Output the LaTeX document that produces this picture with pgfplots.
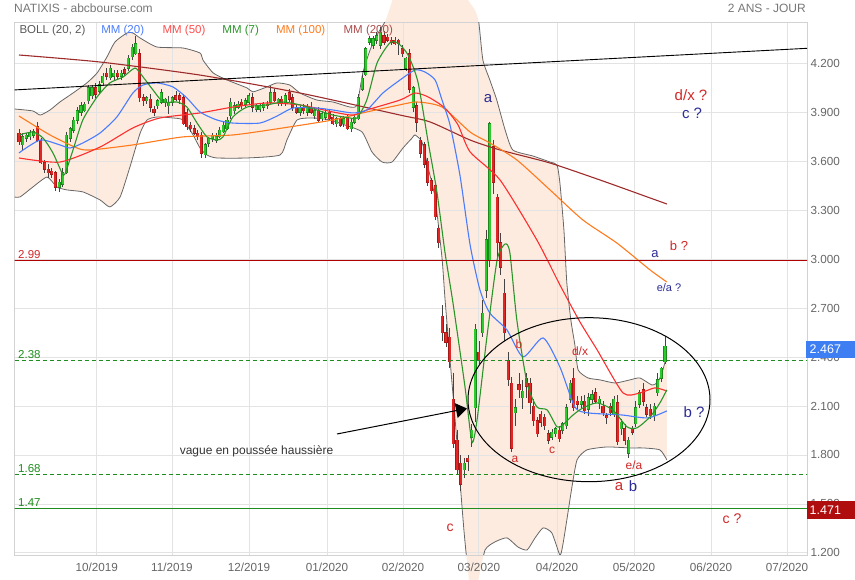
\documentclass[border=0pt]{standalone}
\usepackage{pgfplots}
\pgfplotsset{compat=1.18}
\usepackage{pgfplotstable}
\usepgfplotslibrary{fillbetween}
\usetikzlibrary{arrows.meta}
\usepackage{fontspec}
\setmainfont{Liberation Sans}

\newcommand\fs[1]{\fontsize{#1}{#1}\selectfont}

\definecolor{gridc}{HTML}{E3E3E3}
\definecolor{framec}{HTML}{D2D2D2}
\definecolor{tickc}{HTML}{666666}
\definecolor{titc}{HTML}{777777}
\definecolor{bbfill}{HTML}{FDEBDF}
\definecolor{bbline}{HTML}{666666}
\definecolor{mm20}{HTML}{4A7CFF}
\definecolor{mm50}{HTML}{FF2E2E}
\definecolor{mm7}{HTML}{2A962A}
\definecolor{mm100}{HTML}{FF7A1C}
\definecolor{mm200}{HTML}{9E2B2B}
\definecolor{upc}{HTML}{2BCB2B}
\definecolor{upe}{HTML}{1E861E}
\definecolor{dnc}{HTML}{E22626}
\definecolor{dne}{HTML}{A51818}
\definecolor{wick}{HTML}{444444}
\definecolor{lvl}{HTML}{1E8C1E}
\definecolor{res}{HTML}{B00000}
\definecolor{annr}{HTML}{D02828}
\definecolor{annb}{HTML}{2C2C96}
\definecolor{boxb}{HTML}{3D7EF2}
\definecolor{boxr}{HTML}{B00E0E}

% daily candles, k = trading day index (0 = early Sept 2019)
\pgfplotstableread{
k o h l c
1 3.70 3.77 3.66 3.75
2 3.74 3.77 3.72 3.76
3 3.75 3.79 3.73 3.77
4 3.76 3.80 3.74 3.78
11 3.44 3.49 3.41 3.47
12 3.46 3.56 3.44 3.53
13 3.53 3.78 3.52 3.76
14 3.74 3.81 3.72 3.80
15 3.79 3.87 3.77 3.85
16 3.85 3.93 3.83 3.91
17 3.90 3.96 3.88 3.94
18 3.91 3.96 3.90 3.95
19 3.97 4.07 3.95 4.05
20 4.00 4.07 3.98 4.05
22 4.03 4.09 4.01 4.07
23 4.08 4.14 4.06 4.12
25 4.11 4.19 4.10 4.17
26 4.12 4.16 4.10 4.14
28 4.12 4.16 4.10 4.14
30 4.17 4.25 4.15 4.23
31 4.24 4.32 4.22 4.30
32 4.26 4.37 4.25 4.32
35 3.97 4.00 3.95 3.99
38 3.94 3.98 3.92 3.97
39 3.96 4.04 3.95 4.02
40 3.96 3.99 3.93 3.98
41 3.94 4.00 3.89 3.96
42 3.96 4.00 3.94 3.99
51 3.64 3.71 3.62 3.70
52 3.71 3.75 3.69 3.74
53 3.74 3.77 3.72 3.76
54 3.73 3.77 3.71 3.75
55 3.75 3.81 3.74 3.79
56 3.78 3.84 3.77 3.82
57 3.80 3.87 3.79 3.85
58 3.88 3.99 3.86 3.96
59 3.91 3.96 3.89 3.94
60 3.93 3.97 3.92 3.95
62 3.95 3.99 3.93 3.97
63 3.96 4.02 3.95 4.00
65 3.92 3.95 3.90 3.94
66 3.92 3.95 3.90 3.94
67 3.93 3.96 3.91 3.95
69 3.96 4.06 3.95 4.02
71 3.96 3.99 3.94 3.98
73 3.96 4.02 3.94 4.00
77 3.90 3.94 3.88 3.93
79 3.90 3.95 3.88 3.93
81 3.88 3.93 3.86 3.91
83 3.86 3.91 3.84 3.89
84 3.87 3.92 3.85 3.89
87 3.83 3.87 3.81 3.86
89 3.83 3.88 3.81 3.86
91 3.80 3.86 3.78 3.84
92 3.84 3.89 3.83 3.87
93 3.86 4.01 3.85 3.99
94 4.04 4.13 4.03 4.11
95 4.13 4.30 4.12 4.29
96 4.33 4.37 4.31 4.35
97 4.31 4.37 4.29 4.35
98 4.34 4.39 4.32 4.37
99 4.31 4.42 4.29 4.39
106 4.17 4.24 4.15 4.23
108 3.93 4.06 3.90 4.05
122 1.71 1.78 1.66 1.75
124 1.91 1.99 1.85 1.95
125 2.09 2.60 2.00 2.57
127 2.55 2.75 2.52 2.67
128 2.81 3.18 2.76 3.12
129 2.99 3.84 2.95 3.83
136 2.06 2.14 1.98 2.09
138 2.15 2.26 2.08 2.19
146 1.91 1.96 1.89 1.94
147 1.93 1.97 1.91 1.96
149 1.95 2.00 1.93 1.99
150 1.98 2.11 1.96 2.09
151 2.14 2.26 2.12 2.24
154 2.11 2.16 2.09 2.13
156 2.08 2.18 2.04 2.15
157 2.14 2.20 2.11 2.17
159 2.12 2.16 2.08 2.14
163 2.05 2.16 2.03 2.14
165 1.96 2.02 1.92 2.00
167 1.81 1.91 1.78 1.89
169 1.99 2.13 1.97 2.09
170 2.11 2.20 2.09 2.18
174 2.04 2.12 2.01 2.10
175 2.18 2.30 2.16 2.26
176 2.27 2.34 2.25 2.33
177 2.37 2.53 2.36 2.467
}\upcandles

\pgfplotstableread{
k o h l c
0 3.77 3.80 3.70 3.72
5 3.81 3.84 3.72 3.73
6 3.73 3.74 3.58 3.59
7 3.59 3.61 3.53 3.55
8 3.55 3.58 3.50 3.53
9 3.54 3.56 3.50 3.52
10 3.53 3.54 3.42 3.44
21 4.05 4.08 3.99 4.01
24 4.14 4.17 4.10 4.12
27 4.14 4.16 4.10 4.12
29 4.16 4.18 4.12 4.14
33 4.26 4.29 3.96 3.99
34 3.99 4.01 3.94 3.97
36 3.98 4.01 3.90 3.93
37 3.92 3.94 3.88 3.90
43 4.00 4.03 3.97 3.98
44 4.00 4.02 3.95 3.98
45 3.99 4.01 3.82 3.83
46 3.90 3.92 3.79 3.81
47 3.82 3.84 3.78 3.80
48 3.80 3.82 3.76 3.77
49 3.77 3.79 3.73 3.75
50 3.76 3.78 3.62 3.65
61 3.96 3.98 3.92 3.94
64 3.99 4.02 3.90 3.93
68 3.95 3.97 3.92 3.94
70 4.02 4.04 3.96 3.97
72 3.98 4.00 3.94 3.96
74 4.02 4.04 3.96 3.98
75 3.99 4.01 3.91 3.93
76 3.93 3.95 3.89 3.90
78 3.93 3.95 3.89 3.91
80 3.93 3.96 3.89 3.90
82 3.91 3.93 3.84 3.85
85 3.90 3.92 3.85 3.86
86 3.87 3.89 3.82 3.83
88 3.86 3.88 3.81 3.82
90 3.87 3.89 3.79 3.80
100 4.37 4.40 4.31 4.33
101 4.36 4.38 4.33 4.34
102 4.34 4.36 4.31 4.33
103 4.34 4.36 4.31 4.32
104 4.34 4.35 4.25 4.32
105 4.29 4.31 4.24 4.26
107 4.26 4.29 4.02 4.04
109 3.94 3.96 3.78 3.84
110 3.73 3.75 3.62 3.65
111 3.70 3.72 3.56 3.58
112 3.60 3.62 3.45 3.47
113 3.48 3.50 3.40 3.42
114 3.45 3.47 3.24 3.26
115 3.19 3.21 3.07 3.10
116 2.65 2.72 2.50 2.55
117 2.55 2.60 2.46 2.49
118 2.52 2.58 2.33 2.37
119 2.14 2.30 1.84 1.87
120 1.89 1.95 1.68 1.71
121 1.75 1.80 1.58 1.62
123 1.78 1.80 1.70 1.76
126 2.43 2.50 2.36 2.38
130 3.69 3.73 3.40 3.47
131 3.38 3.40 3.00 3.10
132 3.10 3.16 2.90 2.95
133 2.79 2.88 2.50 2.55
134 2.38 2.43 2.22 2.26
135 2.24 2.28 1.82 1.84
137 2.23 2.30 2.15 2.20
139 2.27 2.30 2.15 2.22
140 2.24 2.27 2.05 2.12
141 2.10 2.14 1.98 2.01
142 2.01 2.03 1.91 1.93
143 2.05 2.07 1.97 2.00
144 2.03 2.05 1.95 1.98
145 1.93 1.95 1.87 1.89
148 1.95 1.98 1.88 1.90
152 2.27 2.33 2.07 2.09
153 2.13 2.16 2.08 2.11
155 2.13 2.17 2.05 2.07
158 2.18 2.21 2.12 2.13
160 2.10 2.13 2.04 2.06
161 2.04 2.06 1.99 2.03
162 2.10 2.12 2.04 2.06
164 2.12 2.17 1.86 1.88
166 1.96 1.99 1.86 1.89
168 1.96 1.98 1.92 1.94
171 2.20 2.24 2.10 2.13
172 2.09 2.11 2.03 2.05
173 2.08 2.11 2.02 2.04
}\downcandles

\pgfplotsset{
  candle/.style 2 args={draw=none, mark=none, forget plot,
    error bars/.cd, y dir=both, y explicit, error mark=none,
    error bar style={draw=#1, line width=#2}},
}

\begin{document}
\begin{tikzpicture}
\path (0,0) rectangle (855pt,580pt);
\begin{axis}[
  at={(14.5pt,25pt)}, anchor=south west,
  scale only axis, width=792.5pt, height=532.3pt,
  xmin=-1.23, xmax=215.9, ymin=1.187, ymax=4.449,
  set layers, clip mode=individual, clip bounding box=upper bound,
  axis line style={framec},
  grid=major, major grid style={gridc, line width=0.8pt},
  major tick length=0pt,
  xtick={21.3,41.9,63.0,84.4,105.2,126.0,147.4,168.5,189.6,210.4},
  xticklabels={10/2019,11/2019,12/2019,01/2020,02/2020,03/2020,04/2020,05/2020,06/2020,07/2020},
  ytick={1.2,1.5,1.8,2.1,2.4,2.7,3.0,3.3,3.6,3.9,4.2},
  yticklabel pos=right,
  ticklabel style={font=\fs{11.7}, text=tickc},
  /pgf/number format/assume math mode=true,
  yticklabel style={/pgf/number format/.cd, fixed, fixed zerofill, precision=3},
  xticklabel style={yshift=-4pt},
]
% Bollinger (20,2)
\addplot[name path=bbu, bbline, line width=0.8pt, smooth, tension=0.35] coordinates {
(-1.2,3.920) (3.8,3.908) (5.8,3.883) (8.5,3.914) (11.2,3.963) (14.8,4.018) (18.6,4.080)
(21.4,4.141) (24.1,4.239) (26.3,4.331) (29.6,4.386) (31.2,4.386) (33.2,4.355) (37.8,4.300)
(44.9,4.294) (49.6,4.263) (50.4,4.220) (53.2,4.141) (57,4.098) (62.5,4.049) (64.1,4.025)
(67.9,4.055) (70.7,4.080) (74.2,4.067) (77,4.018) (81.6,3.975) (86,3.963) (90.7,3.932)
(92.6,3.945) (94.2,4.141) (96.2,4.282) (98.4,4.386) (100.5,4.466) (104.4,4.71) (109.9,4.83)
(115.3,4.77) (120.8,4.65) (124.9,4.527) (126,4.447) (127.1,4.220) (129,4.098) (130.9,3.975)
(133.2,3.791) (135.3,3.669) (140.8,3.632) (145.5,3.595) (147.4,3.577) (148.2,3.467)
(149.3,3.179) (150.1,2.854) (151.2,2.627) (152.3,2.474) (153.2,2.321) (155.9,2.272)
(159.2,2.260) (163.3,2.241) (167.4,2.260) (170.1,2.272) (173.4,2.229) (175.1,2.248)
(176.4,2.321) (177.5,2.413)};
\addplot[name path=bbl, bbline, line width=0.8pt, smooth, tension=0.35] coordinates {
(-1.2,3.381) (0.3,3.381) (3.8,3.442) (7.7,3.503) (10.4,3.442) (13.2,3.424) (17.5,3.412)
(22.2,3.363) (24.9,3.320) (27.7,3.381) (30.4,3.565) (33.2,3.773) (35.1,3.853) (37.8,3.871)
(42.2,3.865) (44.9,3.853) (47.7,3.761) (49.6,3.681) (51.5,3.638) (54.2,3.620) (62.5,3.620)
(71.5,3.638) (73.4,3.730) (76.2,3.853) (80.5,3.865) (85.2,3.853) (89.3,3.822) (94,3.779)
(96.7,3.657) (99.5,3.595) (102.2,3.595) (105.2,3.681) (107.7,3.742) (108.5,3.761)
(110.4,3.718) (112.1,3.559) (114,3.375) (115.9,3.007) (116.7,2.762) (118.1,2.382)
(119.5,2.014) (120.8,1.647) (121.9,1.340) (122.7,1.157) (124.1,0.91) (125.8,1.03)
(127.7,1.218) (130.4,1.267) (133.7,1.292) (136.7,1.236) (139.2,1.218) (141.4,1.292)
(143.6,1.353) (146,1.322) (148.2,1.187) (149,1.249) (150.1,1.402) (151.5,1.604)
(152.9,1.770) (155.6,1.831) (161.1,1.849) (167.4,1.843) (171,1.843) (175.6,1.831) (177.5,1.770)};
\addplot[bbfill] fill between[of=bbu and bbl, on layer=axis background];

% candles: wicks, then body edge, then body
\addplot[candle={wick}{0.7pt}]
  table[x=k, y expr=(\thisrow{h}+\thisrow{l})/2, y error expr=(\thisrow{h}-\thisrow{l})/2] {\upcandles};
\addplot[candle={wick}{0.7pt}]
  table[x=k, y expr=(\thisrow{h}+\thisrow{l})/2, y error expr=(\thisrow{h}-\thisrow{l})/2] {\downcandles};
\addplot[candle={upe}{3.1pt}]
  table[x=k, y expr=(\thisrow{o}+\thisrow{c})/2, y error expr=(\thisrow{c}-\thisrow{o})/2+0.003] {\upcandles};
\addplot[candle={upc}{2.0pt}]
  table[x=k, y expr=(\thisrow{o}+\thisrow{c})/2, y error expr=(\thisrow{c}-\thisrow{o})/2] {\upcandles};
\addplot[candle={dne}{3.1pt}]
  table[x=k, y expr=(\thisrow{o}+\thisrow{c})/2, y error expr=(\thisrow{o}-\thisrow{c})/2+0.003] {\downcandles};
\addplot[candle={dnc}{2.0pt}]
  table[x=k, y expr=(\thisrow{o}+\thisrow{c})/2, y error expr=(\thisrow{o}-\thisrow{c})/2] {\downcandles};

% moving averages
\addplot[mm200, line width=1.1pt, smooth, tension=0.4] coordinates {
(0,4.251) (22.2,4.208) (49.6,4.128) (77,4.018) (104.4,3.883) (112.6,3.841) (123.6,3.730)
(131.8,3.669) (145.5,3.589) (159.2,3.485) (172.9,3.375) (177.5,3.338)};
\addplot[mm100, line width=1.1pt, smooth, tension=0.4] coordinates {
(0,3.877) (8.5,3.761) (15.9,3.681) (19.5,3.669) (31.2,3.700) (44.9,3.749) (58.6,3.761)
(72.3,3.804) (86,3.853) (95.3,3.902) (103,3.939) (109,3.963) (115.9,3.932) (123.6,3.779)
(129,3.712) (136.4,3.608) (145.5,3.424) (154.5,3.240) (163.8,3.099) (172.9,2.934) (177.5,2.860)};
\addplot[mm50, line width=1.1pt, smooth, tension=0.4] coordinates {
(0,3.620) (11.2,3.595) (22.2,3.687) (31.2,3.804) (38.6,3.865) (49.6,3.896) (58.6,3.932)
(67.9,3.957) (77,3.945) (86,3.902) (91.5,3.883) (95.3,3.914) (104.4,3.975) (108.5,4.018)
(112.1,3.994) (116.7,3.926) (120.3,3.822) (123.6,3.657) (131.8,3.485) (141.9,3.117)
(148.2,2.842) (153.7,2.615) (158.4,2.444) (165.5,2.180) (170.1,2.180) (174.2,2.211) (177.5,2.192)};
\addplot[mm20, line width=1.1pt, smooth, tension=0.4] coordinates {
(0,3.651) (5.8,3.730) (11.2,3.700) (14,3.681) (17.5,3.712) (22.2,3.773) (26.8,3.871)
(31.2,4.018) (34,4.067) (37.8,4.080) (42.2,4.055) (46,3.988) (49.6,3.902) (54.2,3.853)
(58.6,3.834) (66,3.834) (70.7,3.877) (75.1,3.926) (81.6,3.926) (86,3.914) (91.5,3.896)
(95.3,3.914) (99.7,4.018) (104.4,4.098) (108.5,4.159) (111.2,4.147) (114,4.098) (115.9,3.975)
(118.1,3.822) (120.8,3.516) (123.6,3.087) (126.3,2.811) (129,2.670) (133.7,2.566)
(138.1,2.401) (143.6,2.517) (148.2,2.339) (152.3,2.094) (155.9,2.058) (165.2,2.045)
(172.3,2.027) (177.5,2.070)};
\addplot[mm7, line width=1.1pt, smooth, tension=0.4] coordinates {
(0,3.761) (3.8,3.779) (6.6,3.742) (9.3,3.651) (11.8,3.528) (12.6,3.522) (14.8,3.669)
(17.5,3.853) (21.4,3.994) (24.9,4.080) (28.5,4.116) (31.8,4.171) (34,4.116) (36.7,4.037)
(39.5,3.963) (43.3,3.963) (46,3.932) (48.8,3.834) (51.5,3.749) (54.2,3.730) (55.9,3.749)
(58.6,3.871) (62.5,3.932) (67.9,3.945) (72.3,3.963) (77,3.945) (81.6,3.914) (86,3.883)
(90.7,3.865) (92.6,3.865) (95.3,3.975) (98.1,4.202) (101.6,4.325) (103.8,4.325)
(106.6,4.251) (109.3,4.086) (112.1,3.718) (114.5,3.412) (116.7,3.044) (118.9,2.732)
(122.2,2.217) (124.1,1.880) (125.5,2.015) (128.2,2.523) (131,2.995) (133.2,3.093)
(134.5,3.038) (136.4,2.627) (139.2,2.241) (141.9,2.094) (144.7,2.076) (147.4,1.972)
(149,1.984) (151.8,2.045) (154.5,2.088) (158.4,2.119) (162.7,2.076) (166.6,1.972)
(169.3,1.966) (172.9,2.033) (175.6,2.119) (177.5,2.199)};

% levels and trend line
\addplot[black, line width=0.9pt] coordinates {(-1.23,4.037) (215.9,4.292)};
\addplot[res, line width=1pt] coordinates {(-5,2.99) (220,2.99)};
\addplot[lvl, line width=1pt, dash pattern=on 4pt off 3pt] coordinates {(-5,2.38) (220,2.38)};
\addplot[lvl, line width=1pt, dash pattern=on 4pt off 3pt] coordinates {(-5,1.68) (220,1.68)};
\addplot[lvl, line width=1.1pt] coordinates {(-5,1.47) (220,1.47)};

\node[anchor=south west, inner sep=0pt, xshift=3.5pt, yshift=1.8pt, text=annr, font=\fs{11.5}] at (axis cs:-1.23,2.99) {2.99};
\node[anchor=south west, inner sep=0pt, xshift=3.5pt, yshift=1.8pt, text=lvl, font=\fs{11.5}] at (axis cs:-1.23,2.38) {2.38};
\node[anchor=south west, inner sep=0pt, xshift=3.5pt, yshift=1.8pt, text=lvl, font=\fs{11.5}] at (axis cs:-1.23,1.68) {1.68};
\node[anchor=south west, inner sep=0pt, xshift=3.5pt, yshift=1.8pt, text=lvl, font=\fs{11.5}] at (axis cs:-1.23,1.47) {1.47};

% indicator captions
\node[anchor=west, inner sep=0pt, text=black!65, font=\fs{11.5}] at (axis cs:0.1,4.404) {BOLL (20, 2)};
\node[anchor=west, inner sep=0pt, text=mm20, font=\fs{11.5}] at (axis cs:22.5,4.404) {MM (20)};
\node[anchor=west, inner sep=0pt, text=mm50!85, font=\fs{11.5}] at (axis cs:39.3,4.404) {MM (50)};
\node[anchor=west, inner sep=0pt, text=mm7, font=\fs{11.5}] at (axis cs:55.7,4.404) {MM (7)};
\node[anchor=west, inner sep=0pt, text=mm100, font=\fs{11.5}] at (axis cs:70.4,4.404) {MM (100)};
\node[anchor=west, inner sep=0pt, text=mm200!85, font=\fs{11.5}] at (axis cs:88.9,4.404) {MM (200)};
\end{axis}

% titles
\node[anchor=west, inner sep=0pt, text=titc, font=\fs{12}] at (14pt,580pt-8.5pt) {NATIXIS - abcbourse.com};
\node[anchor=east, inner sep=0pt, text=titc, font=\fs{12}] at (806pt,580pt-8.5pt) {2 ANS - JOUR};

% last price / low boxes
\fill[boxb] (806pt,580pt-358.3pt) rectangle (855pt,580pt-340.7pt);
\node[anchor=west, inner sep=0pt, text=white, font=\fs{12.5}] at (809.5pt,580pt-349.5pt) {2.467};
\fill[boxr] (807pt,580pt-519pt) rectangle (855pt,580pt-501pt);
\node[anchor=west, inner sep=0pt, text=white, font=\fs{12.5}] at (809.5pt,580pt-510pt) {1.471};

% hand annotations
\draw[black, line width=1pt] (589pt,580pt-399.7pt) ellipse [x radius=121pt, y radius=82pt];
\draw[black, line width=1pt, -{Triangle[length=11pt,width=15pt]}] (337pt,580pt-434pt) -- (467pt,580pt-408.5pt);
\node[text=black!80, font=\fs{12}, inner sep=0pt] at (256.5pt,580pt-451pt) {vague en poussée haussière};

\node[text=annb, font=\fs{15}, inner sep=0pt] at (488pt,580pt-99pt) {a};
\node[text=annr, font=\fs{15}, inner sep=0pt] at (691pt,580pt-95.5pt) {d/x ?};
\node[text=annb, font=\fs{15}, inner sep=0pt] at (692pt,580pt-113pt) {c ?};
\node[text=annb, font=\fs{13}, inner sep=0pt] at (655pt,580pt-254pt) {a};
\node[text=annr, font=\fs{13}, inner sep=0pt] at (679pt,580pt-246pt) {b ?};
\node[text=annb, font=\fs{11}, inner sep=0pt] at (669pt,580pt-288pt) {e/a ?};
\node[text=annr, font=\fs{12}, inner sep=0pt] at (519pt,580pt-344pt) {b};
\node[text=annr, font=\fs{12}, inner sep=0pt] at (580pt,580pt-351pt) {d/x};
\node[text=annr, font=\fs{12}, inner sep=0pt] at (515pt,580pt-459pt) {a};
\node[text=annr, font=\fs{12}, inner sep=0pt] at (552pt,580pt-450pt) {c};
\node[text=annr, font=\fs{12}, inner sep=0pt] at (634pt,580pt-465pt) {e/a};
\node[text=annr, font=\fs{15}, inner sep=0pt] at (619pt,580pt-487pt) {a};
\node[text=annb, font=\fs{15}, inner sep=0pt] at (633pt,580pt-486pt) {b};
\node[text=annb, font=\fs{15}, inner sep=0pt] at (694pt,580pt-412pt) {b ?};
\node[text=annr, font=\fs{14}, inner sep=0pt] at (450pt,580pt-528pt) {c};
\node[text=annr, font=\fs{14}, inner sep=0pt] at (732pt,580pt-519pt) {c ?};
\end{tikzpicture}
\end{document}
